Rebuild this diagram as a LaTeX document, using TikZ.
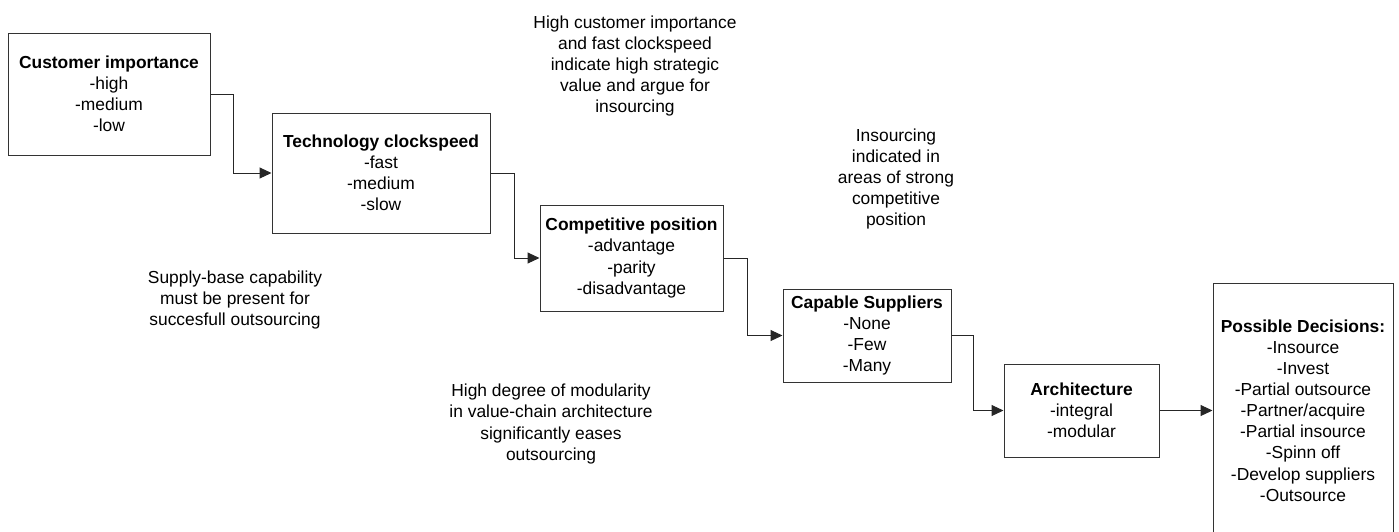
\documentclass[tikz,border=0pt]{standalone}
\usepackage{fontspec}
\setmainfont{Liberation Sans}
\usetikzlibrary{arrows.meta}
\tikzset{
  every node/.style={font=\fontsize{17.4}{21.1}\selectfont, align=center, inner sep=0pt},
  factor/.style={draw=black!80, line width=1pt, fill=white},
  note/.style={},
  link/.style={draw=black!85, line width=1pt, -{Triangle[length=12pt,width=11pt]}},
}
\begin{document}
\begin{tikzpicture}[x=1pt, y=-1pt]
  \useasboundingbox (0,0) rectangle (1399,531);
  \clip (0,0) rectangle (1399,531);

  % decision factors
  \node[factor, minimum width=202pt, minimum height=122pt] (cust) at (109,94)
    {\textbf{Customer importance}\\-high\\-medium\\-low};
  \node[factor, minimum width=218pt, minimum height=120pt] (tech) at (381,173)
    {\textbf{Technology clockspeed}\\-fast\\-medium\\-slow};
  \node[factor, minimum width=183pt, minimum height=106pt] (comp) at (631.5,258)
    {\textbf{Competitive position}\\-advantage\\-parity\\-disadvantage};
  \node[factor, minimum width=168pt, minimum height=93pt] (supp) at (867,335.5)
    {\textbf{Capable Suppliers}\\-None\\-Few\\-Many};
  \node[factor, minimum width=155pt, minimum height=93pt] (arch) at (1081.5,410.5)
    {\textbf{Architecture}\\-integral\\-modular};
  \node[factor, minimum width=180pt, minimum height=255pt] (dec) at (1303,410.5)
    {\textbf{Possible Decisions:}\\-Insource\\-Invest\\-Partial outsource\\-Partner/acquire\\-Partial insource\\-Spinn off\\-Develop suppliers\\-Outsource};

  % step connectors
  \draw[link] (cust.east) -- ++(23,0) |- (tech.west);
  \draw[link] (tech.east) -- ++(24,0) |- (comp.west);
  \draw[link] (comp.east) -- ++(24,0) |- (supp.west);
  \draw[link] (supp.east) -- ++(22,0) |- (arch.west);
  \draw[link] (arch.east) -- (dec.west);

  % commentary
  \node[note] (n1) at (635,66)
    {High customer importance\\and fast clockspeed\\indicate high strategic\\value and argue for\\insourcing};
  \node[note] (n2) at (896,179)
    {Insourcing\\indicated in\\areas of strong\\competitive\\position};
  \node[note] (n3) at (235,300)
    {Supply-base capability\\must be present for\\succesfull outsourcing};
  \node[note] (n4) at (551,424)
    {High degree of modularity\\in value-chain architecture\\significantly eases\\outsourcing};
\end{tikzpicture}
\end{document}
